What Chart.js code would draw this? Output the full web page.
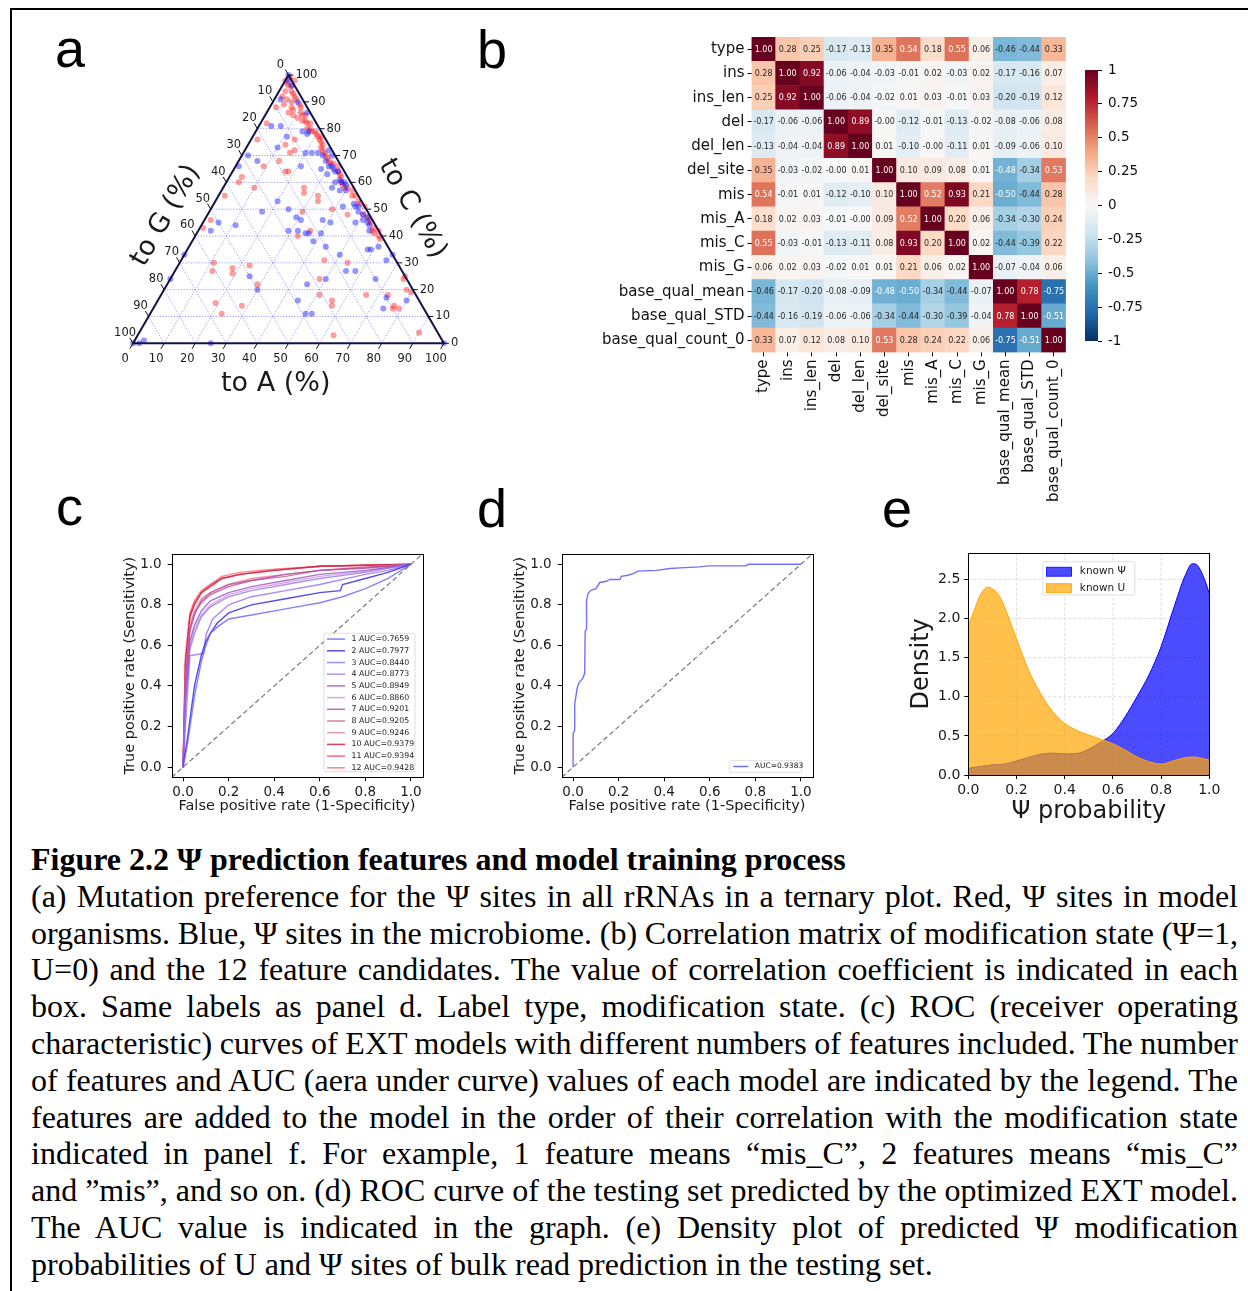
<!DOCTYPE html>
<html>
<head>
<meta charset="utf-8">
<title>Figure 2.2</title>
<script src="https://cdn.jsdelivr.net/npm/chart.js@4.4.0/dist/chart.umd.min.js"></script>
<style>
  html, body { margin: 0; padding: 0; background: #fff; }
  #page { position: relative; width: 1248px; height: 1291px; overflow: hidden; background: #fff; }
  #page canvas { position: absolute; }
  .panel { position: absolute; font-family: "Liberation Sans", Arial, sans-serif; font-size: 54px; line-height: 54px; color: #000; z-index: 2; }
  .rule { position: absolute; background: #000; }
  #caption { position: absolute; left: 31px; top: 841px; width: 1207px; font-family: "Liberation Serif", "Times New Roman", serif; font-size: 32px; line-height: 36.8px; color: #000; }
  #caption .j { text-align: justify; text-align-last: justify; word-spacing: -4px; }
</style>
</head>
<body>
<div id="page">
  <div class="rule" style="left:10px;top:8px;width:1238px;height:2px"></div>
  <div class="rule" style="left:10px;top:8px;width:2px;height:1283px"></div>

  <canvas id="ternary" width="440" height="370" style="left:40px;top:50px"></canvas>
  <canvas id="heat" width="485" height="495" style="left:590px;top:25px"></canvas>
  <canvas id="cbar" width="168" height="310" style="left:1080px;top:50px"></canvas>
  <canvas id="rocAll" width="330" height="290" style="left:110px;top:540px"></canvas>
  <canvas id="rocTest" width="330" height="290" style="left:500px;top:540px"></canvas>
  <canvas id="dens" width="330" height="290" style="left:900px;top:540px"></canvas>

  <div class="panel" style="left:55px;top:21px">a</div>
  <div class="panel" style="left:477px;top:22px">b</div>
  <div class="panel" style="left:56px;top:479px">c</div>
  <div class="panel" style="left:477px;top:481px">d</div>
  <div class="panel" style="left:882px;top:481px">e</div>

  <div id="caption">
    <div><b>Figure 2.2 Ψ prediction features and model training process</b></div>
    <div class="j">(a) Mutation preference for the Ψ sites in all rRNAs in a ternary plot. Red, Ψ sites in model</div>
    <div class="j">organisms. Blue, Ψ sites in the microbiome. (b) Correlation matrix of modification state (Ψ=1,</div>
    <div class="j">U=0) and the 12 feature candidates. The value of correlation coefficient is indicated in each</div>
    <div class="j">box. Same labels as panel d. Label type, modification state. (c) ROC (receiver operating</div>
    <div class="j">characteristic) curves of EXT models with different numbers of features included. The number</div>
    <div class="j">of features and AUC (aera under curve) values of each model are indicated by the legend. The</div>
    <div class="j">features are added to the model in the order of their correlation with the modification state</div>
    <div class="j">indicated in panel f. For example, 1 feature means “mis_C”, 2 features means “mis_C”</div>
    <div class="j">and ”mis”, and so on. (d) ROC curve of the testing set predicted by the optimized EXT model.</div>
    <div class="j">The AUC value is indicated in the graph. (e) Density plot of predicted Ψ modification</div>
    <div>probabilities of U and Ψ sites of bulk read prediction in the testing set.</div>
  </div>
</div>

<script>
// ---- panel a: ternary, [toA %, toC %] (toG = 100 - A - C)
const redSites = [
  [1,97],[2,94],[3,96],[5,93],[2,92],[4,91],[7,91],[2,88],[4,89],[7,88],[10,88],[7,86],[9,85],[12,85],
  [14,83],[15,82],[13,83],[17,80],[16,80],[20,78],[22,76],[24,74],[24,73],[26,71],[29,68],[33,66],
  [36,62],[38,59],[40,58],[42,57],[46,53],[49,51],[52,47],[54,45],[56,43],[58,42],[56,42],
  [2,82],[2,76],[14,76],[12,74],[16,72],[15,71],[13,68],[9,66],[17,64],[18,64],[4,62],[4,60],[10,58],
  [26,58],[27,56],[32,55],[2,55],[33,53],[30,49],[39,50],[45,48],[2,46],[1,43],[36,42],[33,40],
  [11,30],[18,28],[23,29],[12,27],[19,26],[46,31],[54,30],[75,25],[48,24],[29,22],[78,20],[51,18],
  [66,18],[56,16],[57,14],[19,15],[28,14],[73,18],[77,14],[77,13],[79,13],[23,11],[63,3],[90,4],
  [1,99],[0,98],[3,98],[6,90],[8,87],[11,84],[18,79],[21,77],[23,75],[25,72],[28,69],[31,67],
  [35,63],[37,60],[44,55],[47,52],[50,48],[53,46],[60,39],[75,24],[80,19],
  [2,96],[4,94],[6,92],[9,89],[11,86],[13,85],[16,82],[19,79],[22,77],[27,70],[30,67],[34,64],
  [39,58],[43,55],[57,41],[59,40]
];
const blueSites = [
  [1,98],[3,96],[2,91],[8,90],[13,86],[15,79],[17,78],[17,79],[7,81],[4,81],[11,77],[10,73],[20,71],
  [22,71],[24,71],[26,70],[28,68],[30,66],[31,66],[28,65],[31,63],[32,65],[34,64],[35,60],[37,60],
  [38,60],[35,58],[38,57],[45,52],[47,51],[50,48],[52,47],[53,45],[55,42],
  [2,70],[6,68],[21,66],[1,66],[20,53],[17,49],[25,50],[29,47],[31,46],[38,46],[41,45],[42,51],
  [5,45],[11,44],[4,42],[29,42],[32,42],[36,41],[35,41],[40,41],[39,38],[44,36],[49,45],[58,35],
  [59,35],[61,36],[67,33],[66,31],[50,33],[55,27],[58,27],[0,33],[0,24],[25,25],[30,20],[45,22],
  [50,24],[66,24],[45,16],[50,11],[52,11],[73,17],[80,16],[74,13],[3,1],[2,0],[0,0],[25,0],[100,0],[0,100],
  [27,72],[29,70],[33,64],[36,61],[39,59],[40,57],[46,51],[48,49],[51,46],[54,44]
];
const ternaryTicks = [0, 10, 20, 30, 40, 50, 60, 70, 80, 90, 100];

// ---- panel b: correlation matrix
const features = ['type','ins','ins_len','del','del_len','del_site','mis','mis_A','mis_C','mis_G',
                  'base_qual_mean','base_qual_STD','base_qual_count_0'];
const corr = [
  [1.00, 0.28, 0.25,-0.17,-0.13, 0.35, 0.54, 0.18, 0.55, 0.06,-0.46,-0.44, 0.33],
  [0.28, 1.00, 0.92,-0.06,-0.04,-0.03,-0.01, 0.02,-0.03, 0.02,-0.17,-0.16, 0.07],
  [0.25, 0.92, 1.00,-0.06,-0.04,-0.02, 0.01, 0.03,-0.01, 0.03,-0.20,-0.19, 0.12],
  [-0.17,-0.06,-0.06, 1.00, 0.89,-0.001,-0.12,-0.01,-0.13,-0.02,-0.08,-0.06, 0.08],
  [-0.13,-0.04,-0.04, 0.89, 1.00, 0.01,-0.10,-0.001,-0.11, 0.01,-0.09,-0.06, 0.10],
  [0.35,-0.03,-0.02,-0.001, 0.01, 1.00, 0.10, 0.09, 0.08, 0.01,-0.48,-0.34, 0.53],
  [0.54,-0.01, 0.01,-0.12,-0.10, 0.10, 1.00, 0.52, 0.93, 0.21,-0.50,-0.44, 0.28],
  [0.18, 0.02, 0.03,-0.01,-0.001, 0.09, 0.52, 1.00, 0.20, 0.06,-0.34,-0.30, 0.24],
  [0.55,-0.03,-0.01,-0.13,-0.11, 0.08, 0.93, 0.20, 1.00, 0.02,-0.44,-0.39, 0.22],
  [0.06, 0.02, 0.03,-0.02, 0.01, 0.01, 0.21, 0.06, 0.02, 1.00,-0.07,-0.04, 0.06],
  [-0.46,-0.17,-0.20,-0.08,-0.09,-0.48,-0.50,-0.34,-0.44,-0.07, 1.00, 0.78,-0.75],
  [-0.44,-0.16,-0.19,-0.06,-0.06,-0.34,-0.44,-0.30,-0.39,-0.04, 0.78, 1.00,-0.51],
  [0.33, 0.07, 0.12, 0.08, 0.10, 0.53, 0.28, 0.24, 0.22, 0.06,-0.75,-0.51, 1.00]
];
const cbarTicks = [-1, -0.75, -0.5, -0.25, 0, 0.25, 0.5, 0.75, 1];

// ---- panel c: ROC per number of features
const rocAuc = ['0.7659','0.7977','0.8440','0.8773','0.8949','0.8860','0.9201','0.9205','0.9246','0.9379','0.9394','0.9428'];
const rocFpr = [
  [0,0.02,0.05,0.08,0.10,0.12,0.15,0.20,0.30,0.45,0.60,0.70,0.80,0.90,1],
  [0,0.02,0.05,0.08,0.10,0.12,0.15,0.20,0.30,0.45,0.60,0.69,0.70,0.80,0.90,1],
  [0,0.01,0.03,0.09,0.10,0.13,0.20,0.30,0.45,0.60,0.80,0.90,1],
  [0,0.01,0.03,0.05,0.08,0.12,0.20,0.30,0.45,0.60,0.80,1],
  [0,0.01,0.03,0.05,0.08,0.12,0.20,0.30,0.45,0.60,0.80,1],
  [0,0.01,0.03,0.05,0.08,0.12,0.20,0.30,0.45,0.60,0.80,1],
  [0,0.01,0.03,0.05,0.08,0.12,0.20,0.30,0.45,0.60,0.80,1],
  [0,0.01,0.03,0.05,0.08,0.12,0.20,0.30,0.45,0.60,0.80,1],
  [0,0.01,0.03,0.05,0.08,0.12,0.20,0.30,0.45,0.60,0.80,1],
  [0,0.01,0.03,0.05,0.08,0.12,0.17,0.25,0.40,0.60,0.80,1],
  [0,0.01,0.03,0.05,0.08,0.12,0.17,0.25,0.40,0.60,0.80,1],
  [0,0.01,0.03,0.05,0.08,0.12,0.17,0.25,0.40,0.60,0.80,1]
];
const rocTpr = [
  [0,0.12,0.35,0.52,0.60,0.66,0.69,0.73,0.75,0.78,0.81,0.84,0.88,0.93,1],
  [0,0.15,0.40,0.55,0.62,0.66,0.71,0.76,0.80,0.83,0.86,0.87,0.90,0.93,0.96,1],
  [0,0.20,0.55,0.56,0.65,0.73,0.80,0.84,0.87,0.90,0.95,0.97,1],
  [0,0.30,0.58,0.66,0.74,0.79,0.84,0.87,0.90,0.93,0.96,1],
  [0,0.35,0.62,0.70,0.77,0.82,0.86,0.89,0.92,0.95,0.97,1],
  [0,0.32,0.60,0.68,0.75,0.80,0.85,0.88,0.91,0.94,0.965,1],
  [0,0.40,0.68,0.76,0.81,0.85,0.89,0.92,0.95,0.97,0.98,1],
  [0,0.42,0.67,0.75,0.82,0.86,0.90,0.92,0.94,0.97,0.985,1],
  [0,0.45,0.70,0.77,0.83,0.86,0.90,0.93,0.95,0.97,0.985,1],
  [0,0.50,0.74,0.80,0.86,0.89,0.93,0.95,0.97,0.99,0.995,1],
  [0,0.52,0.75,0.81,0.86,0.90,0.93,0.95,0.97,0.99,0.995,1],
  [0,0.55,0.76,0.82,0.87,0.90,0.94,0.96,0.975,0.99,0.995,1]
];
const chanceLine = [-0.05, 1.05];

// ---- panel d: ROC of testing set
const testAuc = '0.9383';
const testFpr = [0,0,0.007,0.007,0.018,0.026,0.044,0.051,0.053,0.059,0.059,0.066,0.08,0.10,0.117,0.146,0.16,0.205,0.212,0.24,0.264,0.285,0.366,0.425,0.47,0.556,0.593,0.76,0.769,1];
const testTpr = [0,0.166,0.18,0.31,0.39,0.416,0.44,0.465,0.67,0.68,0.82,0.857,0.873,0.88,0.91,0.916,0.925,0.925,0.94,0.946,0.954,0.966,0.97,0.979,0.982,0.987,0.992,0.992,1,1];

// ---- panel e: density of predicted probability
const densX   = [0,0.03,0.05,0.08,0.10,0.13,0.15,0.20,0.25,0.30,0.35,0.40,0.45,0.50,0.55,0.60,0.65,0.70,0.75,0.80,0.85,0.90,0.93,0.95,0.98,1.00];
const densU   = [1.90,2.15,2.30,2.40,2.38,2.28,2.15,1.74,1.34,1.04,0.81,0.66,0.57,0.51,0.455,0.40,0.32,0.23,0.17,0.14,0.18,0.22,0.23,0.225,0.205,0.19];
const densPsi = [0.085,0.10,0.11,0.12,0.13,0.135,0.14,0.18,0.225,0.265,0.28,0.27,0.275,0.33,0.42,0.53,0.74,1.00,1.28,1.64,2.11,2.55,2.70,2.68,2.50,2.32];

Chart.defaults.font.family = '"DejaVu Sans", sans-serif';
Chart.defaults.color = '#1a1a1a';
Chart.defaults.animation = false;
Chart.defaults.plugins.legend.display = false;
Chart.defaults.plugins.tooltip.enabled = false;

const SQ3 = Math.sqrt(3);
const rdbuStops = ['#053061','#2166ac','#4393c3','#92c5de','#d1e5f0','#f7f7f7','#fddbc7','#f4a582','#d6604d','#b2182b','#67001f'];

function hexRgb(h) {
  return [parseInt(h.slice(1, 3), 16), parseInt(h.slice(3, 5), 16), parseInt(h.slice(5, 7), 16)];
}

function rdbu(v) {
  const t = (Math.max(-1, Math.min(1, v)) + 1) / 2 * 10;
  const i = Math.min(9, Math.floor(t));
  const f = t - i;
  const a = hexRgb(rdbuStops[i]), b = hexRgb(rdbuStops[i + 1]);
  const c = a.map((x, k) => Math.round(x + (b[k] - x) * f));
  return `rgb(${c[0]},${c[1]},${c[2]})`;
}

// frame box + optional dashed grid
const frameBox = {
  id: 'frameBox',
  beforeDatasetsDraw(chart, args, opts) {
    if (!opts.grid) return;
    const { ctx, chartArea: a, scales } = chart;
    ctx.save();
    ctx.strokeStyle = '#d4d4d4';
    ctx.lineWidth = 0.8;
    ctx.setLineDash([3, 2]);
    scales.x.ticks.forEach(t => {
      const x = scales.x.getPixelForValue(t.value);
      ctx.beginPath(); ctx.moveTo(x, a.top); ctx.lineTo(x, a.bottom); ctx.stroke();
    });
    scales.y.ticks.forEach(t => {
      const y = scales.y.getPixelForValue(t.value);
      ctx.beginPath(); ctx.moveTo(a.left, y); ctx.lineTo(a.right, y); ctx.stroke();
    });
    ctx.restore();
  },
  afterDatasetsDraw(chart) {
    const { ctx, chartArea: a } = chart;
    ctx.save();
    ctx.strokeStyle = '#000';
    ctx.lineWidth = 1;
    ctx.strokeRect(Math.round(a.left) + 0.5, Math.round(a.top) + 0.5, Math.round(a.right - a.left), Math.round(a.bottom - a.top));
    ctx.restore();
  }
};

// matplotlib-like legend box inside the plot
const boxLegend = {
  id: 'boxLegend',
  afterDraw(chart, args, o) {
    const { ctx, chartArea: a } = chart;
    let items = chart.data.datasets.filter(d => d.label);
    if (o.reverse) items = items.slice().reverse();
    const x0 = o.anchor === 'tc' ? (a.left + a.right) / 2 - o.width / 2 : a.right - o.dx - o.width;
    const y0 = o.anchor === 'tc' ? a.top + o.dy : a.bottom - o.dy - o.height;
    ctx.save();
    ctx.beginPath();
    ctx.roundRect(x0, y0, o.width, o.height, 2);
    ctx.fillStyle = 'rgba(255,255,255,0.85)';
    ctx.fill();
    ctx.strokeStyle = '#d6d6d6';
    ctx.lineWidth = 0.8;
    ctx.stroke();
    ctx.font = `${o.fontSize}px "DejaVu Sans"`;
    ctx.textBaseline = 'middle';
    ctx.textAlign = 'left';
    items.forEach((d, i) => {
      const y = y0 + o.first + i * o.step;
      if (o.patch) {
        ctx.fillStyle = d.backgroundColor;
        ctx.fillRect(x0 + o.lineX, y - 4.5, o.lineW, 9);
        ctx.strokeStyle = d.borderColor;
        ctx.lineWidth = 0.8;
        ctx.strokeRect(x0 + o.lineX, y - 4.5, o.lineW, 9);
      } else {
        ctx.strokeStyle = d.borderColor;
        ctx.lineWidth = 1.5;
        ctx.beginPath();
        ctx.moveTo(x0 + o.lineX, y);
        ctx.lineTo(x0 + o.lineX + o.lineW, y);
        ctx.stroke();
      }
      ctx.fillStyle = '#1a1a1a';
      ctx.fillText(d.label, x0 + o.textX, y);
    });
    ctx.restore();
  }
};

function numAxis(min, max, ticks, size, titleText, titleSize, titlePad, tickPad, tickSize) {
  return {
    type: 'linear', min, max,
    afterBuildTicks: s => { s.ticks = ticks.map(v => ({ value: v })); },
    afterFit: s => { if (s.isHorizontal()) s.height = size; else s.width = size; },
    ticks: { callback: v => Number(v).toFixed(1), font: { size: tickSize }, color: '#1a1a1a', padding: tickPad, maxRotation: 0, autoSkip: false },
    grid: { drawOnChartArea: false, drawTicks: true, tickLength: 4, tickColor: '#000' },
    border: { display: false },
    title: { display: true, text: titleText, font: { size: titleSize }, color: '#1a1a1a', padding: titlePad }
  };
}

// ---------------- panel a
const ternaryFrame = {
  id: 'ternaryFrame',
  beforeDatasetsDraw(chart) {
    const { ctx, scales } = chart;
    const P = (A, C) => [scales.x.getPixelForValue(A + C / 2), scales.y.getPixelForValue(C * SQ3 / 2)];
    const seg = (p, q) => { ctx.beginPath(); ctx.moveTo(p[0], p[1]); ctx.lineTo(q[0], q[1]); ctx.stroke(); };
    ctx.save();
    ctx.strokeStyle = 'rgba(40,40,255,0.6)';
    ctx.lineWidth = 0.8;
    ctx.setLineDash([1.2, 1.6]);
    ternaryTicks.slice(1, -1).forEach(t => {
      seg(P(0, t), P(100 - t, t));
      seg(P(t, 0), P(t, 100 - t));
      seg(P(100 - t, 0), P(0, 100 - t));
    });
    ctx.restore();
  },
  afterDatasetsDraw(chart) {
    const { ctx, scales } = chart;
    const P = (A, C) => [scales.x.getPixelForValue(A + C / 2), scales.y.getPixelForValue(C * SQ3 / 2)];
    const seg = (p, q) => { ctx.beginPath(); ctx.moveTo(p[0], p[1]); ctx.lineTo(q[0], q[1]); ctx.stroke(); };
    ctx.save();
    ctx.strokeStyle = '#12124a';
    ctx.lineWidth = 2;
    ctx.lineJoin = 'round';
    ctx.beginPath();
    const v = [P(0, 0), P(100, 0), P(0, 100)];
    ctx.moveTo(v[0][0], v[0][1]); ctx.lineTo(v[1][0], v[1][1]); ctx.lineTo(v[2][0], v[2][1]); ctx.closePath();
    ctx.stroke();

    ctx.lineWidth = 1;
    ctx.strokeStyle = '#111';
    ctx.fillStyle = '#1a1a1a';
    ctx.font = '11.5px "DejaVu Sans"';
    ctx.textBaseline = 'middle';
    ternaryTicks.forEach(t => {
      // to A (bottom)
      let p = P(t, 0);
      seg(p, [p[0] - 3.2, p[1] + 5.5]);
      ctx.textAlign = 'center';
      ctx.fillText(String(t), p[0] - 8, p[1] + 16);
      // to C (right)
      p = P(100 - t, t);
      seg(p, [p[0] + 5, p[1]]);
      ctx.textAlign = 'left';
      ctx.fillText(String(t), p[0] + 7, p[1]);
      // to G (left)
      p = P(0, 100 - t);
      seg(p, [p[0] - 3.2, p[1] - 5.5]);
      ctx.textAlign = 'center';
      ctx.fillText(String(t), p[0] - 8, p[1] - 10.5);
    });

    ctx.font = '27px "DejaVu Sans"';
    ctx.textAlign = 'center';
    const title = (txt, cx, cy, rot) => {
      ctx.save();
      ctx.translate(scales.x.getPixelForValue(cx), scales.y.getPixelForValue(cy));
      ctx.rotate(rot);
      ctx.fillText(txt, 0, 0);
      ctx.restore();
    };
    title('to A (%)', 45.9, -13.0, 0);
    title('to G (%)', 10.6, 41.2, -Math.PI / 3);
    title('to C (%)', 89.8, 43.4, Math.PI / 3);
    ctx.restore();
  }
};

const toXY = s => ({ x: s[0] + s[1] / 2, y: s[1] * SQ3 / 2 });

new Chart(document.getElementById('ternary'), {
  type: 'scatter',
  data: {
    datasets: [
      { label: 'microbiome', data: blueSites.map(toXY), backgroundColor: 'rgba(20,20,255,0.45)', borderWidth: 0, pointRadius: 3 },
      { label: 'model organisms', data: redSites.map(toXY), backgroundColor: 'rgba(255,20,20,0.42)', borderWidth: 0, pointRadius: 3 }
    ]
  },
  options: {
    responsive: false,
    devicePixelRatio: 1,
    layout: { padding: 0 },
    scales: {
      x: { type: 'linear', display: false, min: -28.65, max: 110.33 },
      y: { type: 'linear', display: false, min: -23.47, max: 93.40 }
    }
  },
  plugins: [ternaryFrame]
});

// ---------------- panel b
const cellText = {
  id: 'cellText',
  afterDatasetsDraw(chart) {
    const { ctx } = chart;
    ctx.save();
    ctx.font = '8px "DejaVu Sans"';
    ctx.textAlign = 'center';
    ctx.textBaseline = 'middle';
    chart.data.datasets.forEach((ds, k) => {
      const r = features.length - 1 - k;
      chart.getDatasetMeta(k).data.forEach((bar, c) => {
        const v = corr[r][c];
        ctx.fillStyle = Math.abs(v) > 0.47 ? '#ffffff' : '#262626';
        ctx.fillText(v.toFixed(2), bar.x, (bar.y + bar.base) / 2 + 0.5);
      });
    });
    ctx.restore();
  }
};

new Chart(document.getElementById('heat'), {
  type: 'bar',
  data: {
    labels: features,
    datasets: features.map((_, k) => {
      const r = features.length - 1 - k;
      return {
        label: features[r],
        data: features.map(() => 1),
        backgroundColor: corr[r].map(rdbu),
        borderWidth: 0,
        barPercentage: 1,
        categoryPercentage: 1,
        stack: 'rows'
      };
    })
  },
  options: {
    responsive: false,
    devicePixelRatio: 1,
    layout: { padding: { top: 9.8, right: 6.1, left: 0, bottom: 0 } },
    scales: {
      x: {
        stacked: true,
        afterFit: s => { s.height = 167.6; },
        ticks: { font: { size: 15 }, color: '#111', minRotation: 90, maxRotation: 90, autoSkip: false, padding: 3 },
        grid: { display: true, offset: false, drawOnChartArea: false, drawTicks: true, tickLength: 4, tickColor: '#000' },
        border: { display: false }
      },
      y: {
        type: 'linear', stacked: true, min: 0, max: features.length,
        afterBuildTicks: s => { s.ticks = features.map((_, i) => ({ value: features.length - 0.5 - i })); },
        afterFit: s => { s.width = 161.5; },
        ticks: { callback: v => features[Math.round(features.length - 0.5 - v)], font: { size: 15 }, color: '#111', padding: 3, autoSkip: false },
        grid: { drawOnChartArea: false, drawTicks: true, tickLength: 4, tickColor: '#000' },
        border: { display: false }
      }
    }
  },
  plugins: [cellText]
});

new Chart(document.getElementById('cbar'), {
  type: 'bar',
  data: {
    labels: [''],
    datasets: [{
      data: [[-1, 1]],
      barPercentage: 1,
      categoryPercentage: 1,
      borderWidth: 0,
      backgroundColor: ctx => {
        const a = ctx.chart.chartArea;
        if (!a) return '#f7f7f7';
        const g = ctx.chart.ctx.createLinearGradient(0, a.bottom, 0, a.top);
        rdbuStops.forEach((c, i) => g.addColorStop(i / (rdbuStops.length - 1), c));
        return g;
      }
    }]
  },
  options: {
    responsive: false,
    devicePixelRatio: 1,
    layout: { padding: { left: 5, top: 20, bottom: 19, right: 0 } },
    scales: {
      x: { display: false },
      y: {
        position: 'right', min: -1, max: 1,
        afterBuildTicks: s => { s.ticks = cbarTicks.map(v => ({ value: v })); },
        afterFit: s => { s.width = 150; },
        ticks: { callback: v => String(v), font: { size: 13.5 }, color: '#111', padding: 6 },
        grid: { drawOnChartArea: false, drawTicks: true, tickLength: 4, tickColor: '#000' },
        border: { display: false }
      }
    }
  }
});

// ---------------- panel c
const rocColors = ['rgba(100,100,255,0.8)','rgba(55,45,235,0.85)','rgba(140,100,240,0.75)','rgba(150,110,230,0.75)',
                   'rgba(150,80,200,0.8)','rgba(205,140,215,0.75)','rgba(175,75,165,0.8)','rgba(200,90,150,0.8)',
                   'rgba(230,120,150,0.75)','rgba(215,30,70,0.85)','rgba(240,70,90,0.8)','rgba(255,100,100,0.8)'];
const rateTicks = [0, 0.2, 0.4, 0.6, 0.8, 1.0];

new Chart(document.getElementById('rocAll'), {
  type: 'scatter',
  data: {
    datasets: rocFpr.map((xs, i) => ({
      label: `${i + 1} AUC=${rocAuc[i]}`,
      data: xs.map((x, j) => ({ x, y: rocTpr[i][j] })),
      showLine: true, pointRadius: 0, borderWidth: 1.4, borderColor: rocColors[i], backgroundColor: rocColors[i]
    })).concat([{
      data: chanceLine.map(v => ({ x: v, y: v })),
      showLine: true, pointRadius: 0, borderWidth: 1.2, borderColor: '#7a7a7a', borderDash: [5, 3]
    }])
  },
  options: {
    responsive: false,
    devicePixelRatio: 1,
    layout: { padding: { top: 13.3, right: 17.7, left: 0, bottom: 0 } },
    scales: {
      x: numAxis(-0.05, 1.05, rateTicks, 52.7, 'False positive rate (1-Specificity)', 14.5, { bottom: 14.6 }, 3, 13.5),
      y: numAxis(-0.05, 1.05, rateTicks, 61.7, 'True positive rate (Sensitivity)', 14.5, { top: 11.3 }, 6, 13.5)
    },
    plugins: {
      boxLegend: { anchor: 'br', dx: 7.3, dy: 5.6, width: 91, height: 138.4, first: 5.8, step: 11.7, lineX: 3, lineW: 18, textX: 27.5, fontSize: 7.8 }
    }
  },
  plugins: [frameBox, boxLegend]
});

// ---------------- panel d
new Chart(document.getElementById('rocTest'), {
  type: 'scatter',
  data: {
    datasets: [{
      label: `AUC=${testAuc}`,
      data: testFpr.map((x, j) => ({ x, y: testTpr[j] })),
      showLine: true, pointRadius: 0, borderWidth: 1.4, borderColor: 'rgba(105,105,255,0.95)', backgroundColor: 'rgba(105,105,255,0.95)'
    }, {
      data: chanceLine.map(v => ({ x: v, y: v })),
      showLine: true, pointRadius: 0, borderWidth: 1.2, borderColor: '#7a7a7a', borderDash: [5, 3]
    }]
  },
  options: {
    responsive: false,
    devicePixelRatio: 1,
    layout: { padding: { top: 13.3, right: 17.7, left: 0, bottom: 0 } },
    scales: {
      x: numAxis(-0.05, 1.05, rateTicks, 52.7, 'False positive rate (1-Specificity)', 14.5, { bottom: 14.6 }, 3, 13.5),
      y: numAxis(-0.05, 1.05, rateTicks, 61.7, 'True positive rate (Sensitivity)', 14.5, { top: 11.3 }, 6, 13.5)
    },
    plugins: {
      boxLegend: { anchor: 'br', dx: 10.6, dy: 5, width: 72.4, height: 11.6, first: 5.8, step: 11, lineX: 4, lineW: 15, textX: 25.5, fontSize: 7.5 }
    }
  },
  plugins: [frameBox, boxLegend]
});

// ---------------- panel e
new Chart(document.getElementById('dens'), {
  type: 'line',
  data: {
    datasets: [{
      label: 'known U',
      data: densX.map((x, i) => ({ x, y: densU[i] })),
      fill: 'origin', backgroundColor: 'rgba(255,165,0,0.7)', borderColor: 'rgba(255,165,0,1)', borderWidth: 1,
      pointRadius: 0, cubicInterpolationMode: 'monotone'
    }, {
      label: 'known Ψ',
      data: densX.map((x, i) => ({ x, y: densPsi[i] })),
      fill: 'origin', backgroundColor: 'rgba(0,0,255,0.7)', borderColor: 'rgba(0,0,255,1)', borderWidth: 1,
      pointRadius: 0, cubicInterpolationMode: 'monotone'
    }]
  },
  options: {
    responsive: false,
    devicePixelRatio: 1,
    layout: { padding: { top: 12.7, right: 20.7, left: 0, bottom: 0 } },
    scales: {
      x: numAxis(0, 1, rateTicks, 55, 'Ψ probability', 24, { bottom: 3.9 }, 3, 14),
      y: numAxis(0, 2.84, [0, 0.5, 1.0, 1.5, 2.0, 2.5], 68.3, 'Density', 24, { top: 7.3 }, 4, 14)
    },
    plugins: {
      frameBox: { grid: true },
      boxLegend: { anchor: 'tc', dy: 9, width: 92, height: 33.3, first: 10, step: 16.5, lineX: 3.7, lineW: 25, textX: 37, fontSize: 10.5, patch: true, reverse: true }
    }
  },
  plugins: [frameBox, boxLegend]
});
</script>
</body>
</html>
